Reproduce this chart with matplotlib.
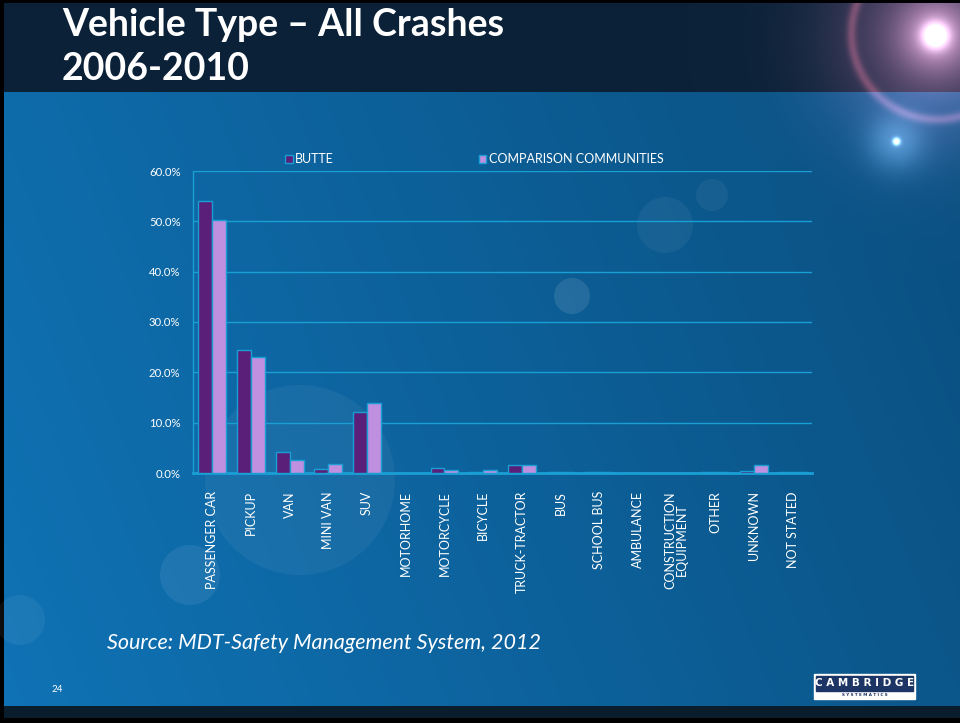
import numpy as np
import matplotlib
matplotlib.use("Agg")
import matplotlib.pyplot as plt
from matplotlib.patches import Rectangle, Circle

categories = ["PASSENGER CAR", "PICKUP", "VAN", "MINI VAN", "SUV", "MOTORHOME",
              "MOTORCYCLE", "BICYCLE", "TRUCK-TRACTOR", "BUS", "SCHOOL BUS",
              "AMBULANCE", "CONSTRUCTION\nEQUIPMENT", "OTHER", "UNKNOWN", "NOT STATED"]
butte = [54.1, 24.4, 4.1, 0.8, 12.2, 0.0, 0.9, 0.2, 1.6, 0.2, 0.2, 0.0, 0.0, 0.2, 0.4, 0.1]
comparison = [50.3, 23.0, 2.6, 1.8, 13.9, 0.0, 0.5, 0.6, 1.6, 0.2, 0.2, 0.0, 0.0, 0.2, 1.5, 0.1]
series_names = ["BUTTE", "COMPARISON COMMUNITIES"]
yticks = [0, 10, 20, 30, 40, 50, 60]

FONT = "Lato"
fig = plt.figure(figsize=(9.6, 7.23), dpi=100)
fig.patch.set_facecolor("black")

# ---------- background image ----------
H, W = 723, 960
yy, xx = np.mgrid[0:H, 0:W].astype(float)
img = np.zeros((H, W, 3))
t = xx / W
v = (yy - 92) / (706 - 92)
c_left = np.array([0.06, 0.45, 0.71])
c_right = np.array([0.04, 0.31, 0.50])
frac = np.clip(0.8 * t + 0.2 * (1 - v), 0, 1)[..., None]
img[:] = c_left * (1 - frac) + c_right * frac
img[yy < 92] = np.array([0.043, 0.133, 0.22])
img[yy >= 706] = np.array([0.04, 0.115, 0.18])

def glow(cx, cy, sigma, color, amp):
    d2 = (xx - cx) ** 2 + (yy - cy) ** 2
    return amp * np.exp(-d2 / (2 * sigma ** 2))[..., None] * np.array(color)

g1 = (glow(935, 35, 70, [0.45, 0.22, 0.30], 0.8) + glow(935, 35, 25, [0.6, 0.45, 0.5], 0.7)
      + glow(935, 35, 9, [1, 1, 1], 0.8))
g2 = glow(896, 141, 20, [0.45, 0.5, 0.55], 0.45) + glow(896, 141, 2.5, [1, 1, 1], 0.9)
d = np.sqrt((xx - 937) ** 2 + (yy - 33) ** 2)
ring = 0.3 * np.exp(-((d - 86) ** 2) / (2 * 3.5 ** 2))[..., None] * np.array([0.9, 0.35, 0.4])
img = np.clip(img + g1 + g2 + ring, 0, 1)
img[yy >= 718] = 0
img[yy < 3] = 0
img[:, :4] = 0

bg = fig.add_axes([0, 0, 1, 1])
bg.imshow(img, extent=[0, W, H, 0], aspect="auto", zorder=0, interpolation="bilinear")
bg.set_xlim(0, W)
bg.set_ylim(H, 0)
bg.axis("off")
for (cx, cy, r, a) in [(300, 480, 95, 0.05), (190, 575, 30, 0.07), (572, 296, 18, 0.10),
                       (665, 225, 28, 0.05), (712, 195, 16, 0.05), (20, 620, 25, 0.06)]:
    bg.add_patch(Circle((cx, cy), r, color="white", alpha=a, lw=0, zorder=2))

# ---------- texts ----------
bg.text(62, 25, "Vehicle Type – All Crashes", color="white", fontsize=27,
        fontweight="bold", family=FONT, va="center", ha="left", zorder=3)
bg.text(62, 69, "2006-2010", color="white", fontsize=27,
        fontweight="bold", family=FONT, va="center", ha="left", zorder=3)
bg.text(107, 643, "Source: MDT-Safety Management System, 2012", color="white",
        fontsize=15.5, style="italic", family=FONT, va="center", ha="left", zorder=3)
bg.text(52, 690, "24", color="white", fontsize=7, family=FONT, va="center", zorder=3)
# logo
bg.add_patch(Rectangle((814, 674), 101, 25, color="white", zorder=3))
bg.add_patch(Rectangle((816, 676), 97, 15, color="#1c3564", zorder=3))
bg.text(864.5, 683.5, "C A M B R I D G E", color="white", fontsize=7.5, fontweight="bold",
        family="DejaVu Sans", ha="center", va="center", zorder=4)
bg.text(864.5, 695, "S Y S T E M A T I C S", color="#1c3564", fontsize=3, fontweight="bold",
        family="DejaVu Sans", ha="center", va="center", zorder=4)

# ---------- chart ----------
ax = fig.add_axes([193 / 960, 1 - 473 / 723, 619 / 960, 302 / 723])
ax.set_facecolor("none")
x = np.arange(len(categories))
bw = 0.36
edge = "#1a9fd4"
ax.bar(x - bw / 2, butte, bw, color="#5a1f78", edgecolor=edge, linewidth=1.0,
       label=series_names[0], zorder=3)
ax.bar(x + bw / 2, comparison, bw, color="#c090e0", edgecolor=edge, linewidth=1.0,
       label=series_names[1], zorder=3)
ax.set_xlim(-0.5, len(categories) - 0.5)
ax.set_ylim(0, 60)
ax.set_yticks(yticks)
ax.set_yticklabels([f"{v:.1f}%" for v in yticks], color="white", fontsize=8.2, family=FONT)
ax.yaxis.grid(True, color="#1a9fd4", lw=1.0, zorder=0)
ax.set_axisbelow(True)
ax.tick_params(axis="y", length=0, pad=9)
ax.tick_params(axis="x", length=0, pad=13)
ax.set_xticks(x)
ax.set_xticklabels(categories, rotation=90, color="white", fontsize=9, family=FONT,
                   va="top", ha="center", linespacing=0.95)
for s in ["top", "right"]:
    ax.spines[s].set_visible(False)
ax.spines["left"].set_color("#1a9fd4")
ax.spines["bottom"].set_color("#1a9fd4")
ax.spines["bottom"].set_linewidth(2)
ax.spines["left"].set_linewidth(1)

leg = ax.legend(loc="lower left", bbox_to_anchor=(0.149, 1.02), ncol=2, frameon=False,
                handlelength=0.6, handleheight=0.6, handletextpad=0.2,
                columnspacing=11.6, borderaxespad=0.0, borderpad=0.0,
                prop={"family": FONT, "size": 9})
for txt in leg.get_texts():
    txt.set_color("white")
for hnd in leg.legend_handles:
    hnd.set_edgecolor(edge)

fig.savefig("out.png", dpi=100, facecolor=fig.get_facecolor())
